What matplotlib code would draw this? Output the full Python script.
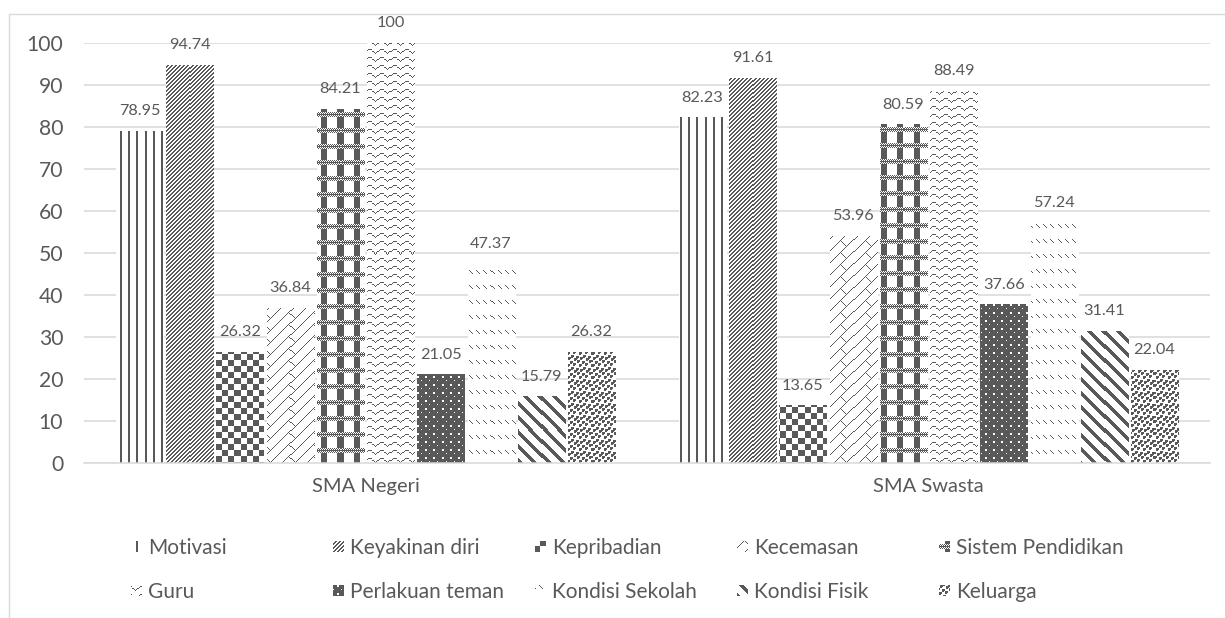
import numpy as np
import matplotlib
matplotlib.use("Agg")
import matplotlib.pyplot as plt
from matplotlib.patches import Rectangle

# ---- data -------------------------------------------------------------
categories = ["SMA Negeri", "SMA Swasta"]
series_names = ["Motivasi", "Keyakinan diri", "Kepribadian", "Kecemasan",
                "Sistem Pendidikan", "Guru", "Perlakuan teman",
                "Kondisi Sekolah", "Kondisi Fisik", "Keluarga"]
motivasi = [78.95, 82.23]
keyakinan_diri = [94.74, 91.61]
kepribadian = [26.32, 13.65]
kecemasan = [36.84, 53.96]
sistem_pendidikan = [84.21, 80.59]
guru = [100, 88.49]
perlakuan_teman = [21.05, 37.66]
kondisi_sekolah = [47.37, 57.24]
kondisi_fisik = [15.79, 31.41]
keluarga = [26.32, 22.04]
y_ticks = [0, 10, 20, 30, 40, 50, 60, 70, 80, 90, 100]

series_values = [motivasi, keyakinan_diri, kepribadian, kecemasan,
                 sistem_pendidikan, guru, perlakuan_teman, kondisi_sekolah,
                 kondisi_fisik, keluarga]

# ---- fill patterns (1 = ink) -------------------------------------------
def tile_vertical():
    t = np.zeros((1, 8), int)
    t[0, 0:2] = 1
    return t

def tile_updiag_dense():
    r, c = np.indices((4, 4))
    return (((r + c) % 4) < 2).astype(int)

def tile_checker():
    r, c = np.indices((12, 12))
    return (((r // 6) + (c // 6)) % 2 == 0).astype(int)

def tile_brick():
    # long "/" courses with short staggered "\" joints
    r, c = np.indices((24, 24))
    t = (((r + c) % 12) == 0).astype(int)
    for k in range(1, 6):
        t[k, k] = 1
        t[(12 + k) % 24, k] = 1
    return t

def tile_plaid():
    t = np.zeros((16, 16), int)
    t[:, 1:7] = 1
    for r in range(5):
        for c in range(16):
            t[r, c] = 1 if (r + c) % 2 == 0 else 0
        if r == 2:
            t[r, :] = 1
    return t

def tile_wave():
    t = np.zeros((8, 12), int)
    prev = None
    for c in range(12):
        y = int(round(3.5 + 2 * np.sin(2 * np.pi * c / 12)))
        t[y, c] = 1
        if prev is not None and abs(prev - y) > 1:
            lo, hi = sorted((prev, y))
            t[lo + 1:hi, c] = 1
        prev = y
    return t

def tile_dotted_dark():
    t = np.ones((8, 8), int)
    t[1:3, 1:3] = 0
    t[5, 5] = 0
    return t

def tile_dash_rows():
    t = np.zeros((15, 7), int)
    for k in range(4):
        t[k, k] = 1
    return t

def tile_wide_downdiag():
    r, c = np.indices((14, 14))
    return (((c - r) % 14) < 5).astype(int)

def tile_confetti():
    t = np.zeros((12, 12), int)
    for (r, c) in [(0, 1), (1, 6), (3, 9), (4, 3), (7, 7), (8, 0), (9, 4), (10, 10)]:
        for dr in range(3):
            for dc in range(3):
                if (dr, dc) != (2, 2):
                    t[(r + dr) % 12, (c + dc) % 12] = 1
    return t

tiles = [tile_vertical(), tile_updiag_dense(), tile_checker(), tile_brick(),
         tile_plaid(), tile_wave(), tile_dotted_dark(), tile_dash_rows(),
         tile_wide_downdiag(), tile_confetti()]

INK = np.array([89, 89, 89], np.uint8)
PAPER = np.array([255, 255, 255], np.uint8)

def pattern_image(tile, w_px, h_px, left_px, top_px):
    th, tw = tile.shape
    rows = (np.arange(h_px) + top_px) % th
    cols = (np.arange(w_px) + left_px) % tw
    mask = tile[np.ix_(rows, cols)].astype(bool)
    return np.where(mask[..., None], INK, PAPER).astype(np.uint8)

# ---- figure -------------------------------------------------------------
W, H = 1225, 618
plt.rcParams['font.family'] = ['Lato', 'DejaVu Sans']
TXT = '#595959'
GRID = '#d9d9d9'

fig = plt.figure(figsize=(W / 100, H / 100), dpi=100)
fig.patch.set_facecolor('white')
ax = fig.add_axes([84 / W, (H - 463) / H, (1210 - 84) / W, 420 / H])
ax.set_xlim(-0.5, len(categories) - 0.5)
ax.set_ylim(0, 100)

n = len(series_names)
pitch = 0.0892
bar_w = 0.0835
x = np.arange(len(categories))

for i, (vals, tile) in enumerate(zip(series_values, tiles)):
    off = (i - (n - 1) / 2) * pitch
    bars = ax.bar(x + off, vals, bar_w, facecolor='none', edgecolor='none',
                  zorder=2)
    for b, v in zip(bars, vals):
        x0, x1 = b.get_x(), b.get_x() + b.get_width()
        (px0, py0), (px1, py1) = ax.transData.transform([(x0, 0), (x1, v)])
        w_px = max(1, int(round(px1 - px0)))
        h_px = max(1, int(round(py1 - py0)))
        img = pattern_image(tile, w_px, h_px, int(round(px0)),
                            int(round(H - py1)))
        ax.imshow(img, extent=(x0, x1, 0, v), origin='upper',
                  interpolation='nearest', aspect='auto', zorder=2)
        ax.annotate(f"{v:g}", (b.get_x() + b.get_width() / 2, v),
                    xytext=(0, 11.5), textcoords='offset points',
                    ha='center', va='baseline', fontsize=11.7, color=TXT,
                    annotation_clip=False)

ax.set_xlim(-0.5, len(categories) - 0.5)
ax.set_ylim(0, 100)
ax.set_yticks(y_ticks)
ax.set_xticks(x)
ax.set_xticklabels(categories)
ax.grid(axis='y', color=GRID, linewidth=1.1, zorder=0)
ax.set_axisbelow(True)
for s in ['top', 'right', 'left']:
    ax.spines[s].set_visible(False)
ax.spines['bottom'].set_color(GRID)
ax.spines['bottom'].set_linewidth(1.1)
ax.spines['bottom'].set_zorder(3)
ax.tick_params(axis='y', length=0, pad=15, labelsize=15.2, labelcolor=TXT)
ax.tick_params(axis='x', length=0, pad=11, labelsize=14.5, labelcolor=TXT)

# chart-area frame
fig.add_artist(Rectangle((9 / W, -0.5), 2.0, (H - 14) / H + 0.5,
                         transform=fig.transFigure, fill=False,
                         edgecolor=GRID, linewidth=1.0, zorder=0))

# ---- legend (5 columns x 2 rows) ---------------------------------------
leg_text_x0 = 148
leg_pitch = 202
leg_rows_y = [546, 590]
key = 11
for i, (name, tile) in enumerate(zip(series_names, tiles)):
    row, col = divmod(i, 5)
    tx = leg_text_x0 + col * leg_pitch
    cy = leg_rows_y[row]
    kx = tx - 6 - key
    ky_top = cy - key // 2
    img = pattern_image(tile, key, key, kx, ky_top)
    fig.figimage(img, xo=kx, yo=H - ky_top - key, origin='upper', zorder=5)
    fig.text(tx / W, (H - cy) / H, name, ha='left', va='center_baseline',
             fontsize=15.0, color=TXT)

fig.savefig('out.png', dpi=100, facecolor='white')
